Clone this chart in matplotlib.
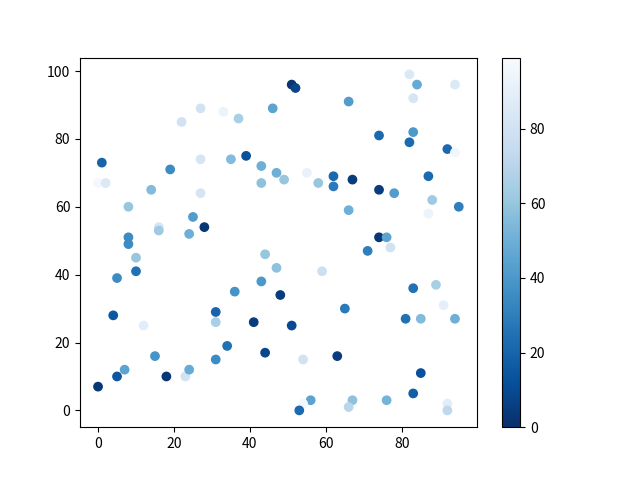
import numpy as np
import matplotlib
matplotlib.use('Agg')
import matplotlib.pyplot as plt

plt.rcParams['font.family'] = ['Noto Sans CJK SC', 'DejaVu Sans']

# values
x = [27, 33, 22, 37, 46, 1, 19, 27, 35, 39, 43, 47, 43, 0, 2, 14, 27, 8, 25, 28,
     16, 16, 24, 8, 8, 49, 51, 52, 82, 84, 94, 83, 66, 74, 83, 82, 92, 94, 55, 58,
     62, 62, 67, 74, 78, 87, 88, 87, 95, 66, 74, 76, 77, 71, 10, 5, 10, 4, 12, 15,
     7, 5, 0, 18, 23, 24, 31, 31, 36, 41, 43, 44, 47, 48, 44, 31, 34, 59, 83, 89,
     91, 65, 51, 81, 85, 94, 54, 63, 85, 83, 56, 54, 53, 67, 66, 76, 92, 92]
y = [89, 88, 85, 86, 89, 73, 71, 74, 74, 75, 72, 70, 67, 67, 67, 65, 64, 60, 57, 54,
     54, 53, 52, 51, 49, 68, 96, 95, 99, 96, 96, 92, 91, 81, 82, 79, 77, 76, 70, 67,
     69, 66, 68, 65, 64, 69, 62, 58, 60, 59, 51, 51, 48, 47, 45, 39, 41, 28, 25, 16,
     12, 10, 7, 10, 10, 12, 29, 26, 35, 26, 38, 46, 42, 34, 17, 15, 19, 41, 36, 37,
     31, 30, 25, 27, 27, 27, 15, 16, 11, 5, 3, 2, 0, 3, 1, 3, 2, 0]
c = [80, 93, 80, 65, 45, 20, 35, 82, 55, 12, 50, 50, 58, 97, 85, 55, 82, 60, 42, 3,
     82, 62, 50, 35, 35, 60, 2, 8, 85, 48, 85, 82, 42, 22, 40, 22, 22, 95, 92, 60,
     22, 28, 5, 5, 42, 22, 62, 93, 30, 50, 3, 45, 80, 30, 60, 35, 25, 15, 88, 38,
     45, 15, 3, 3, 80, 48, 20, 65, 38, 5, 40, 60, 58, 5, 8, 35, 25, 78, 25, 65,
     90, 28, 10, 25, 55, 50, 80, 5, 12, 18, 45, 97, 22, 58, 70, 52, 88, 72]

plt.figure(figsize=(6.4, 4.8), dpi=100)
plt.scatter(x, y, c=c, cmap='Blues_r', vmin=0, vmax=99)
plt.colorbar()
plt.savefig('out.png')
